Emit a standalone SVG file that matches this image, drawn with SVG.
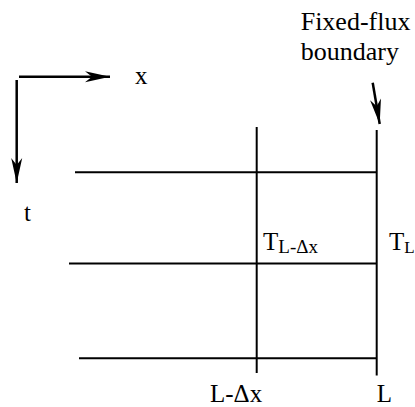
<svg xmlns="http://www.w3.org/2000/svg" width="415" height="407" viewBox="0 0 415 407">
<style>
.ln{stroke:#000;stroke-width:2;fill:none}
.ar{stroke:#000;stroke-width:2.5;fill:none}
.tx{font-family:"Liberation Serif","Times New Roman",serif;fill:#000;font-size:25px}
.sb{font-size:19px}
</style>
<defs>
<marker id="head" markerUnits="userSpaceOnUse" markerWidth="30" markerHeight="14" viewBox="-26 -7 28 14" refX="0" refY="0" orient="auto">
<path d="M0,0 L-25,-5.5 L-18,0 L-25,5.5 Z" fill="#000"/>
</marker>
</defs>
<g id="connectors">
<line class="ar" x1="19" y1="76.7" x2="110" y2="76.7" marker-end="url(#head)"/>
<line class="ar" x1="16.7" y1="80" x2="16.7" y2="183" marker-end="url(#head)"/>
<line class="ar" x1="372.7" y1="82.7" x2="379.7" y2="124" marker-end="url(#head)"/>
</g>
<g id="grid">
<line class="ln" x1="75" y1="172.3" x2="377" y2="172.3"/>
<line class="ln" x1="69" y1="263.5" x2="377" y2="263.5"/>
<line class="ln" x1="79" y1="358.3" x2="377" y2="358.3"/>
<line class="ln" x1="256.7" y1="127" x2="256.7" y2="373"/>
<line class="ln" x1="376.7" y1="130" x2="376.7" y2="375.5"/>
</g>
<g id="label-x"><text class="tx" x="135" y="84.3">x</text></g>
<g id="label-t"><text class="tx" x="24" y="221">t</text></g>
<g id="label-boundary">
<text class="tx" x="300.7" y="30" style="font-size:26px">Fixed-flux</text>
<text class="tx" x="300.7" y="60" style="font-size:26px">boundary</text>
</g>
<g id="label-TLdx"><text class="tx" x="263" y="250">T<tspan class="sb" dy="3">L-Δx</tspan></text></g>
<g id="label-TL"><text class="tx" x="389" y="250">T<tspan class="sb" dy="3" style="font-size:17px">L</tspan></text></g>
<g id="label-Ldx"><text class="tx" x="210" y="401.7">L-Δx</text></g>
<g id="label-L"><text class="tx" x="376.7" y="401.7">L</text></g>
</svg>
